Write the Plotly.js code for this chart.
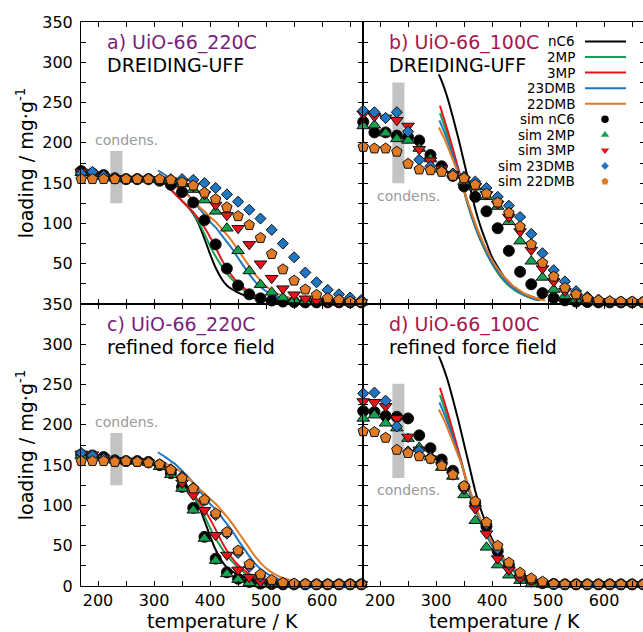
<!DOCTYPE html>
<html>
<head>
<meta charset="utf-8">
<script src="https://cdn.plot.ly/plotly-3.0.1.min.js"></script>
<style>
  html, body { margin: 0; padding: 0; overflow: hidden; background: #ffffff; }
  #chart { width: 645px; height: 632px; }
</style>
</head>
<body>
<div id="chart"></div>
<script>
// ---------------- data ----------------
// simulated isobars: temperature grid (K)
const simTemp = [170,190,210,230,250,270,290,310,330,350,370,390,410,430,450,470,490,510,530,550,570,590,610,630,650,670];

// a) UiO-66_220C, DREIDING-UFF (mg/g)
const simA_nC6   = [165,162,160,156,155,155,155,153,148,139,126,104,74,44,23,12,7,4.3,3,2.5,2,2,2,2,2,2];
const simA_2MP   = [163,160,158,156,155,155,155,154,153,149,142,129,115,94,66,41,24,14.5,8,5,3.5,3,2.5,2,2,2];
const simA_3MP   = [164,161,158,156,155,155,155,154,153,151,146,136,123,110,94,74,50,32,19,11.5,6.5,4,3,2.5,2,2];
const simA_23DMB = [162,164,159,156,155,155,155,155,155,155,154,150,144,136,127,117,106,92,75,58,39,27,17.5,12,8,5];
const simA_22DMB = [155,155,155,155,155,155,155,155,154,151,147,138,130,120,109,98,82,62,43,29,18,11.3,7.2,5.2,3,2.3];

// b) UiO-66_100C, DREIDING-UFF
const simB_nC6   = [226,213,213,209,207,203,185,171,159,146,133,115,94,66,40,24.5,13.5,7.5,4.5,3,2.5,2,2,2,2,2];
const simB_2MP   = [221,222,212,205,203,193,180,167,162,152,145,133,121,102,78,53,33,18,10,5.5,3.5,2.5,2,2,2,2];
const simB_3MP   = [236,233,231,228,221,192,178,168,161,154,146,136,124,108,90,67,44,28,16,9,5,3.5,2.5,2,2,2];
const simB_23DMB = [240,238,231,238,214,179,171,166,162,158,152,144,133,122,108,87,63,42,28,16,9,5.5,3.5,2.5,2,2];
const simB_22DMB = [195,193,193,189,174,167,166,164,159,156,148,137,126,113,96,74,51,34,20,12,7,4.5,3.5,3,3,3];

// c) UiO-66_220C, refined force field
const simC_nC6   = [163,162,160,156,155,155,154,150,140,123,97,61,34,17,9,5,3,2.5,2,2,2,2,2,2,2,2];
const simC_2MP   = [162,161,159,156,155,155,153,148,138,121,94,59,31.5,15,8,4,2.5,2,2,2,2,2,2,2,2,2];
const simC_3MP   = [164,163,159,156,155,155,153,150,141,128,113,94,63,38.5,20,11,5.4,3,2.5,2,2,2,2,2,2,2];
const simC_23DMB = [165,162,158,155,155,155,153,151,145,136,122,106,88,65,41,24,12,6,3.5,2.5,2,2,2,2,2,2];
const simC_22DMB = [155,155,155,154,155,154,153,151,144,134,121,107,90,67,44,27,14.5,7.5,4,3,2.5,2,2,2,2,2];

// d) UiO-66_100C, refined force field
const simD_nC6   = [217,216,211,210,208,187,171,157,143,123,103,74,43,26,12,6,3.5,2.5,2,2,2,2,2,2,2,2];
const simD_2MP   = [208,212,202,196,183,172,160,147,136,113,81,48,26,13.4,6.7,2.5,2,2,2,2,2,2,2,2,2,2];
const simD_3MP   = [229,228,223,208,185,169,158,150,138,120,96,65,34,20,9.5,5,3,2,2,2,2,2,2,2,2,2];
const simD_23DMB = [239,240,230,198,167,168,160,151,140,122,103,77,46,27,15,8,4.5,3,2,2,2,2,2,2,2,2];
const simD_22DMB = [192,191,184,169,165,161,158,149,138,124,105,79,50,29,16.5,9.5,5.4,2.5,2,2,2,2,2,2,2,2];

// measured isobars, UiO-66_220C (panels a and c)
const exp220Temp       = [310,320,330,340,350,360,370,380,390,400,410,420,430,440,450,460,470,480,490,500,510,520,530,540,550];
const exp220_nC6       = [154,149,142,135,128,121,112,99,81,62,45,32,23,18,14,11,9,7,5.5,4.5,3.5,3,2.5,2.2,2];
const exp220_2MP       = [154,149,142,135,128,121,113,101,87,72,59,48,38,30,23,17,13,10,8,6,4.5,3.5,3,2.5,2];
const exp220_3MP       = [154,149,142,135,128,121,114,105,95,83,70,56,44,34,26,20,15,11,8,6,4.5,3.5,3,2.5,2];
const exp220Temp_23DMB = [307,320,330,340,350,360,370,380,390,400,410,420,430,440,450,460,470,480,490,500,510,520,530,540,550];
const exp220_23DMB     = [166,160,155,150,143,136,128,119,111,102,95,86,77,68,57,47,37,28,21,16,12,9,7,5,4];
const exp220_22DMB     = [155,152,149,145,141,135,128,121,115,108,102,94,86,77,67,57,47,37,29,22,17,13,10,8,6];

// measured isobars, UiO-66_100C (panels b and d)
const exp100Temp_nC6   = [305,310,320,330,340,350,360,370,380,390,400,410,420,430,440,450,460,470,480,490];
const exp100_nC6       = [285,277,257,232,205,176,147,118,95,76,58,46,35,27,20,15,12,9,7,5.5];
const exp100Temp       = [307,315,325,335,345,355,365,375,385,395,405,415,425,435,445,455,465,475,485];
const exp100_2MP       = [237,221,199,176,153,127,105,86,70,56,44,34,26,20,15,11.5,8.5,6,4.5];
const exp100_3MP       = [246,228,205,180,155,129,107,88,72,58,46,36,28,22,17,13,9.5,7,5];
const exp100Temp_23DMB = [306,315,325,335,345,355,365,375,385,395,405,415,425,435,445,455,465,475,485];
const exp100_23DMB     = [228,213,194,174,153,129,107,88,72,58,46,36,28,21.5,16.5,12.5,9,6.5,5];
const exp100Temp_22DMB = [305,315,325,335,345,355,365,375,385,395,405,415,425,435,445,455,465,475,485,495];
const exp100_22DMB     = [219,205,188,170,152,130,110,91,75,61,49,39,31,24,19,14,10.5,8,6,4.5];

// axis ticks and labels
const tempLabelTicks = [200,300,400,500,600];
const tempMinorTicks = [250,350,450,550,650];
const loadLabelTicksBottom = [0,50,100,150,200,250,300,350];
const loadLabelTicksTop    = [50,100,150,200,250,300,350];
const loadMinorTicks       = [25,75,125,175,225,275,325];

const adsorbates = ['nC6','2MP','3MP','23DMB','22DMB'];

// ---------------- styles ----------------
const FONT = 'DejaVu Sans, Verdana, sans-serif';
const colour = {nC6:'#000000','2MP':'#14a150','3MP':'#e8121a','23DMB':'#1f76c2','22DMB':'#e07a24'};
const symbol = {nC6:'circle','2MP':'triangle-up','3MP':'triangle-down','23DMB':'diamond','22DMB':'pentagon'};
const msize  = {nC6:11,'2MP':11,'3MP':11,'23DMB':8.5,'22DMB':11};

const panels = [
  {xa:'x',  ya:'y',  sim:[simA_nC6,simA_2MP,simA_3MP,simA_23DMB,simA_22DMB], exp:'220'},
  {xa:'x2', ya:'y2', sim:[simB_nC6,simB_2MP,simB_3MP,simB_23DMB,simB_22DMB], exp:'100'},
  {xa:'x3', ya:'y3', sim:[simC_nC6,simC_2MP,simC_3MP,simC_23DMB,simC_22DMB], exp:'220'},
  {xa:'x4', ya:'y4', sim:[simD_nC6,simD_2MP,simD_3MP,simD_23DMB,simD_22DMB], exp:'100'}
];

const expCurves = {
  '220': [[exp220Temp,exp220_nC6],[exp220Temp,exp220_2MP],[exp220Temp,exp220_3MP],[exp220Temp_23DMB,exp220_23DMB],[exp220Temp,exp220_22DMB]],
  '100': [[exp100Temp_nC6,exp100_nC6],[exp100Temp,exp100_2MP],[exp100Temp,exp100_3MP],[exp100Temp_23DMB,exp100_23DMB],[exp100Temp_22DMB,exp100_22DMB]]
};

const traces = [];
panels.forEach(p => {
  expCurves[p.exp].forEach((c, i) => {
    const a = adsorbates[i];
    traces.push({
      type:'scatter', mode:'lines', x:c[0], y:c[1], xaxis:p.xa, yaxis:p.ya,
      line:{color:colour[a], width:2, shape:'spline', smoothing:0.8},
      showlegend:false, hoverinfo:'skip', cliponaxis:false
    });
  });
});
panels.forEach(p => {
  p.sim.forEach((vals, i) => {
    const a = adsorbates[i];
    traces.push({
      type:'scatter', mode:'markers', x:simTemp, y:vals, xaxis:p.xa, yaxis:p.ya,
      marker:{color:colour[a], symbol:symbol[a], size:msize[a], line:{color:'#111111', width:1}},
      showlegend:false, hoverinfo:'skip', cliponaxis:false
    });
  });
});

// ---------------- key (legend) in the top-right panel ----------------
const L = 81, R = 0, T = 22, B = 46, W = 645, H = 632;
const pw = W - L - R, ph = H - T - B;
const px2paper = px => (px - L) / pw;
const py2paper = py => (H - B - py) / ph;
const keyRowY = i => 41.5 + i * 15.55;
const keyTextX = px2paper(577);
const keyLine0 = px2paper(585), keyLine1 = px2paper(626);
const keyMarkX = px2paper(605);

const annotations = [];
const shapes = [];

adsorbates.forEach((a, i) => {
  annotations.push({xref:'paper', yref:'paper', x:keyTextX, y:py2paper(keyRowY(i)), xanchor:'right', yanchor:'middle',
    text:a, showarrow:false, font:{family:FONT, size:13.5, color:'#000'}});
  shapes.push({type:'line', xref:'paper', yref:'paper', x0:keyLine0, x1:keyLine1,
    y0:py2paper(keyRowY(i)), y1:py2paper(keyRowY(i)), line:{color:colour[a], width:2}});
});
adsorbates.forEach((a, i) => {
  const row = i + 5;
  annotations.push({xref:'paper', yref:'paper', x:keyTextX, y:py2paper(keyRowY(row)), xanchor:'right', yanchor:'middle',
    text:'sim ' + a, showarrow:false, font:{family:FONT, size:13.5, color:'#000'}});
  traces.push({
    type:'scatter', mode:'markers', xaxis:'x5', yaxis:'y5',
    x:[keyMarkX], y:[py2paper(keyRowY(row))],
    marker:{color:colour[a], symbol:symbol[a], size:a === '23DMB' ? 6 : 7.5},
    showlegend:false, hoverinfo:'skip', cliponaxis:false
  });
});

// ---------------- panel titles and condensation bands ----------------
const titleLines = [
  {xa:'x',  ya:'y',  l1:'a) UiO-66_220C', c1:'#7a1e7c', l2:'DREIDING-UFF'},
  {xa:'x2', ya:'y2', l1:'b) UiO-66_100C', c1:'#a8154b', l2:'DREIDING-UFF'},
  {xa:'x3', ya:'y3', l1:'c) UiO-66_220C', c1:'#7a1e7c', l2:'refined force field'},
  {xa:'x4', ya:'y4', l1:'d) UiO-66_100C', c1:'#a8154b', l2:'refined force field'}
];
titleLines.forEach(t => {
  annotations.push({xref:t.xa, yref:t.ya, x:213, y:324, xanchor:'left', yanchor:'middle', showarrow:false,
    text:t.l1, font:{family:FONT, size:19, color:t.c1}});
  annotations.push({xref:t.xa, yref:t.ya, x:213, y:297, xanchor:'left', yanchor:'middle', showarrow:false,
    text:t.l2, font:{family:FONT, size:19, color:'#000'}});
});

const bands = [
  {xa:'x',  ya:'y',  lo:125, hi:190, ty:204},
  {xa:'x2', ya:'y2', lo:150, hi:275, ty:134},
  {xa:'x3', ya:'y3', lo:125, hi:190, ty:204},
  {xa:'x4', ya:'y4', lo:134, hi:251, ty:119}
];
bands.forEach(b => {
  shapes.push({type:'rect', xref:b.xa, yref:b.ya, x0:222, x1:243.5, y0:b.lo, y1:b.hi,
    fillcolor:'#c3c3c3', line:{width:0}, layer:'below'});
  annotations.push({xref:b.xa, yref:b.ya, x:251, y:b.ty, xanchor:'center', yanchor:'middle', showarrow:false,
    text:'condens.', font:{family:FONT, size:14, color:'#9a9a9a'}});
});

// temperature titles under the two bottom panels
[0.25, 0.75].forEach(xc => {
  annotations.push({xref:'paper', yref:'paper', x:xc, y:py2paper(621), xanchor:'center', yanchor:'middle',
    showarrow:false, text:'temperature / K', font:{family:FONT, size:19, color:'#000'}});
});

// ---------------- axes ----------------
const tickFont = {family:FONT, size:16, color:'#000'};
const minorStyle = vals => ({tickmode:'array', tickvals:vals, ticks:'inside', ticklen:5, tickwidth:1, tickcolor:'#000', showgrid:false});

function xAxis(domain, anchor, labels) {
  return {domain:domain, anchor:anchor, range:[169.6, 673], showline:true, linecolor:'#000', linewidth:1, mirror:'ticks',
    ticks:'inside', ticklen:5, tickwidth:1, tickcolor:'#000', tickmode:'array', tickvals:tempLabelTicks,
    minor:minorStyle(tempMinorTicks),
    showticklabels:labels, tickfont:tickFont, showgrid:false, zeroline:false, fixedrange:true};
}
function yAxis(domain, anchor, labels, vals) {
  const ax = {domain:domain, anchor:anchor, range:[0, 350], showline:true, linecolor:'#000', linewidth:1, mirror:'ticks',
    ticks:'inside', ticklen:5, tickwidth:1, tickcolor:'#000', tickmode:'array', tickvals:vals,
    minor:minorStyle(loadMinorTicks),
    showticklabels:labels, tickfont:tickFont, ticklabelstandoff:4, showgrid:false, zeroline:false, fixedrange:true};
  if (labels) ax.title = {text:'loading / mg·g<sup>-1</sup>', font:{family:FONT, size:19, color:'#000'}, standoff:3};
  return ax;
}

const layout = {
  width:W, height:H, margin:{l:L, r:R, t:T, b:B, pad:0},
  paper_bgcolor:'#ffffff', plot_bgcolor:'rgba(0,0,0,0)', showlegend:false,
  font:{family:FONT, color:'#000'},
  xaxis:  xAxis([0, 0.5], 'y',  false),
  yaxis:  yAxis([0.5, 1], 'x',  true,  loadLabelTicksTop),
  xaxis2: xAxis([0.5, 1], 'y2', false),
  yaxis2: yAxis([0.5, 1], 'x2', false, loadLabelTicksTop),
  xaxis3: xAxis([0, 0.5], 'y3', true),
  yaxis3: yAxis([0, 0.5], 'x3', true,  loadLabelTicksBottom),
  xaxis4: xAxis([0.5, 1], 'y4', true),
  yaxis4: yAxis([0, 0.5], 'x4', false, loadLabelTicksBottom),
  xaxis5: {domain:[0, 1], anchor:'y5', range:[0, 1], visible:false, fixedrange:true},
  yaxis5: {domain:[0, 1], anchor:'x5', range:[0, 1], visible:false, fixedrange:true},
  annotations:annotations,
  shapes:shapes
};

Plotly.newPlot('chart', traces, layout, {displayModeBar:false, staticPlot:true}).then(gd => {
  // drop empty placeholder text nodes left by axes that carry no title
  document.querySelectorAll('text').forEach(t => {
    let empty = !t.textContent.trim();
    if (!empty) {
      try { const b = t.getBBox(); empty = (b.width === 0 || b.height === 0); } catch (e) { empty = false; }
    }
    if (empty) t.remove();
  });
});
</script>
</body>
</html>
